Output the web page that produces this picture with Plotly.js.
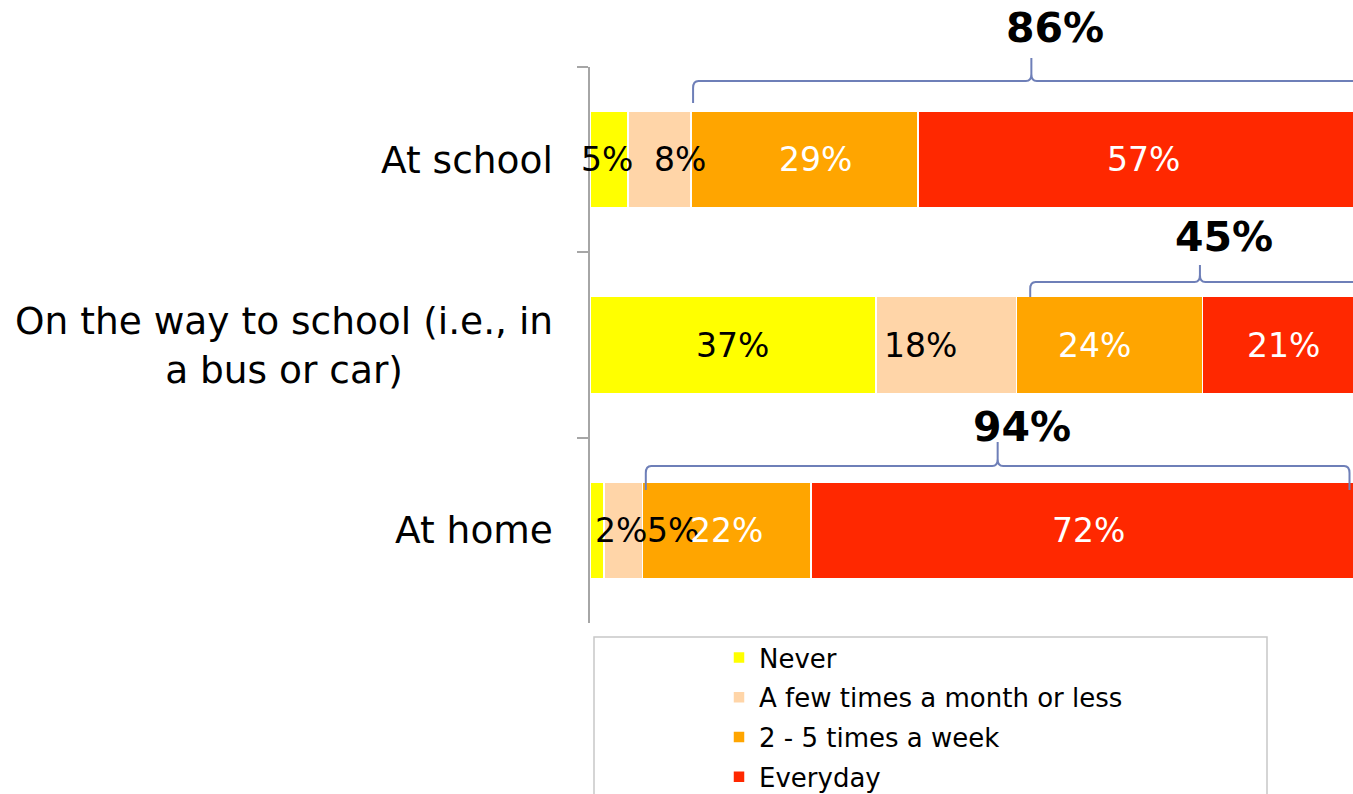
<!DOCTYPE html>
<html>
<head>
<meta charset="utf-8">
<script src="https://cdn.plot.ly/plotly-3.0.1.min.js"></script>
<style>html,body{margin:0;padding:0;background:#fff;}#chart{width:1353px;height:794px;}</style>
</head>
<body>
<div id="chart"></div>
<script>
// ---- data ----
const categories = ['At school', 'On the way to school (i.e., in<br>a bus or car)', 'At home'];
const seriesNames = ['Never', 'A few times a month or less', '2 - 5 times a week', 'Everyday'];
const never     = [4.9, 36.9, 1.8];
const fewTimes  = [8.1, 18.1, 5.0];
const twoToFive = [29.3, 24.0, 21.7];
const everyday  = [57.4, 21.0, 71.6];
const bracketFrom = [13.3, 56.8, 7.2];
const bracketTo   = [100.6, 100.6, 98.0];

// ---- styles ----
const colors = ['#FFFF00', '#FFD5A8', '#FFA500', '#FF2800'];
const labelColors = ['#000000', '#000000', '#FFFFFF', '#FFFFFF'];
const labelNudge = [[-2, 0, 24], [21, -26, 50], [11, -15, 0], [3, 0, 0]]; // px, per series per category
const FONT = 'Verdana, "DejaVu Sans", sans-serif';
const W = 1353, H = 794;
const M = {l: 590, r: 0, t: 67, b: 171};
const plotH = H - M.t - M.b;
const py = p => (H - M.b - p) / plotH;           // pixel row -> paper y
// bracket geometry in pixel rows per category: line, bottom of ends, tip, label centre
const bracketPx = [
  {line: 81, bottom: 103, tip: 58, label: 28},
  {line: 282, bottom: 297, tip: 265, label: 237},
  {line: 466, bottom: 490, tip: 442, label: 427}
];

const series = [never, fewTimes, twoToFive, everyday];

const traces = series.map((vals, i) => ({
  type: 'bar',
  orientation: 'h',
  name: seriesNames[i],
  y: categories,
  x: vals,
  legendgroup: 'g' + i,
  marker: {color: colors[i], line: {color: '#FFFFFF', width: 1.5}},
  textposition: 'none',
  hoverinfo: 'skip'
}));

const annotations = [];
// category labels
categories.forEach(c => {
  annotations.push({
    xref: 'paper', x: 0, xanchor: 'right', xshift: -35,
    yref: 'y', y: c, yanchor: 'middle',
    text: c, showarrow: false, align: 'center',
    font: {family: FONT, size: 37.5, color: '#000'}
  });
});
// segment labels
categories.forEach((c, k) => {
  let cum = 0;
  series.forEach((vals, i) => {
    const v = vals[k];
    annotations.push({
      xref: 'x', x: cum + v / 2, xanchor: 'center', xshift: labelNudge[i][k],
      yref: 'y', y: c, yanchor: 'middle',
      text: Math.round(v) + '%', showarrow: false,
      font: {family: FONT, size: 33, color: labelColors[i]}
    });
    cum += v;
  });
});
// bracket labels and shapes
const shapes = [];
categories.forEach((c, k) => {
  const total = Math.round(twoToFive[k]) + Math.round(everyday[k]);
  const a = bracketFrom[k], b = bracketTo[k], m = (a + b) / 2;
  const g = bracketPx[k];
  annotations.push({
    xref: 'x', x: m, xanchor: 'center', xshift: 24,
    yref: 'paper', y: py(g.label), yanchor: 'middle',
    text: '<b>' + total + '%</b>', showarrow: false,
    font: {family: FONT, size: 41, color: '#000'}
  });
  const dx = 0.7, yl = py(g.line), yb = py(g.bottom), yt = py(g.tip), r = 7 / plotH;
  const path = `M${a},${yb} L${a},${yl - r} Q${a},${yl} ${a + dx},${yl} L${m - dx},${yl} Q${m},${yl} ${m},${yl + r} L${m},${yt}` +
               ` M${m},${yl + r} Q${m},${yl} ${m + dx},${yl} L${b - dx},${yl} Q${b},${yl} ${b},${yl - r} L${b},${yb}`;
  shapes.push({type: 'path', xref: 'x', yref: 'paper', path: path, line: {color: '#6E7FB8', width: 2}, layer: 'above'});
});
// legend frame
shapes.push({type: 'rect', xref: 'paper', yref: 'paper',
  x0: (594 - M.l) / (W - M.l), x1: (1267 - M.l) / (W - M.l), y0: py(637), y1: py(820),
  line: {color: '#C8C8C8', width: 1.5}, fillcolor: 'rgba(0,0,0,0)'});

const layout = {
  width: W, height: H,
  margin: M,
  paper_bgcolor: '#FFFFFF', plot_bgcolor: '#FFFFFF',
  barmode: 'stack', bargap: 0.476,
  showlegend: true,
  legend: {
    xref: 'paper', x: (719 - M.l) / (W - M.l), xanchor: 'left',
    yref: 'container', y: 1 - 634 / H, yanchor: 'top',
    traceorder: 'grouped', tracegroupgap: 3,
    font: {family: FONT, size: 26, color: '#000'},
    bgcolor: 'rgba(0,0,0,0)', borderwidth: 0
  },
  xaxis: {range: [0, 98.45], visible: false, fixedrange: true},
  yaxis: {
    type: 'category', categoryorder: 'array', categoryarray: categories,
    range: [2.5, -0.5], showticklabels: false,
    showline: true, linecolor: '#A6A6A6', linewidth: 2,
    ticks: 'outside', tickson: 'boundaries', ticklen: 11, tickcolor: '#A6A6A6', tickwidth: 2,
    showgrid: false, zeroline: false, fixedrange: true
  },
  annotations: annotations,
  shapes: shapes
};

Plotly.newPlot('chart', traces, layout, {displayModeBar: false, staticPlot: true});
</script>
</body>
</html>
